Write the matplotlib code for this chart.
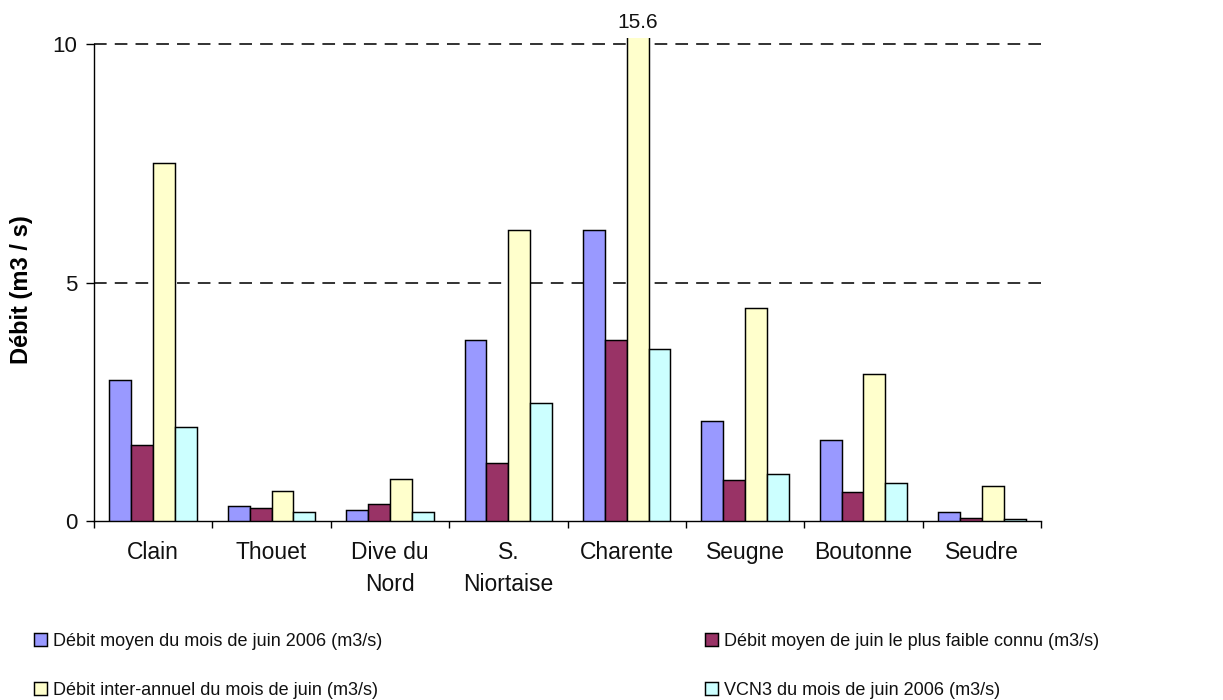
import matplotlib
matplotlib.use("Agg")
import matplotlib.pyplot as plt
import numpy as np
from matplotlib.patches import Rectangle

plt.rcParams['font.family'] = ['Liberation Sans', 'DejaVu Sans']

categories = ["Clain", "Thouet", "Dive du\nNord", "S.\nNiortaise", "Charente",
              "Seugne", "Boutonne", "Seudre"]
series_names = [
    "Débit moyen du mois de juin 2006 (m3/s)",
    "Débit moyen de juin le plus faible connu (m3/s)",
    "Débit inter-annuel du mois de juin (m3/s)",
    "VCN3 du mois de juin 2006 (m3/s)",
]
debit_juin_2006 = [2.95, 0.32, 0.23, 3.80, 6.10, 2.10, 1.69, 0.18]
debit_juin_min = [1.59, 0.28, 0.36, 1.22, 3.80, 0.85, 0.60, 0.06]
debit_interannuel = [7.52, 0.64, 0.88, 6.10, 15.6, 4.46, 3.09, 0.74]
vcn3_juin_2006 = [1.97, 0.18, 0.18, 2.48, 3.61, 0.99, 0.79, 0.05]
colors = ["#9999FF", "#993366", "#FFFFCC", "#CCFFFF"]
y_ticks = [0, 5, 10]
y_max = 10

series = [debit_juin_2006, debit_juin_min, debit_interannuel, vcn3_juin_2006]

fig = plt.figure(figsize=(12.23, 7.0), dpi=100)
ax = fig.add_axes([94 / 1223, 1 - 521 / 700, 947 / 1223, 476.5 / 700])

x = np.arange(len(categories))
w = 0.185
offsets = (np.arange(len(series)) - 1.5) * w

clip_rect = Rectangle((0, 0), 1, 1.013, transform=ax.transAxes)

handles = []
for vals, off, col, name in zip(series, offsets, colors, series_names):
    bars = ax.bar(x + off, vals, width=w, color=col, edgecolor="black",
                  linewidth=1.05, label=name, zorder=3)
    handles.append(bars)
    for b, v in zip(bars, vals):
        if v > y_max:
            b.set_clip_path(clip_rect)
            ax.annotate(f"{v:g}", xy=(b.get_x() + b.get_width() / 2, y_max),
                        xytext=(0, 12), textcoords="offset points",
                        ha="center", va="baseline", fontsize=15,
                        color="#111111", annotation_clip=False)

ax.set_xlim(-0.5, len(categories) - 0.5)
ax.set_ylim(0, y_max)
ax.set_yticks(y_ticks)
ax.set_yticklabels([str(t) for t in y_ticks])

ax.set_xticks(x)
ax.set_xticklabels(categories, fontsize=16.5, linespacing=1.5, color="#111111")
ax.set_xticks(np.arange(len(categories) + 1) - 0.5, minor=True)
ax.tick_params(axis="x", which="major", length=0, pad=14.5)
ax.tick_params(axis="x", which="minor", length=5, width=1.0, direction="out")
ax.tick_params(axis="y", which="major", length=6, width=1.0, direction="out",
               labelsize=16, pad=6, labelcolor="#111111")

for s in ["top", "right"]:
    ax.spines[s].set_visible(False)
for s in ["left", "bottom"]:
    ax.spines[s].set_linewidth(1.0)
    ax.spines[s].set_color("black")

ax.set_axisbelow(True)
ax.yaxis.grid(True, color="#222222", linestyle=(0, (7, 4.5)), linewidth=1.3)
for gl, t in zip(ax.get_ygridlines(), y_ticks):
    gl.set_clip_on(False)
    if t == 0:
        gl.set_visible(False)

ax.set_ylabel("Débit (m3 / s)", fontsize=17, fontweight="bold", va="center")
ax.yaxis.set_label_coords(-0.077, 0.485)

leg_kw = dict(frameon=False, prop={"size": 13},
              handlelength=0.7, handleheight=0.7,
              handletextpad=0.35, labelspacing=1.75, borderpad=0,
              borderaxespad=0, loc="upper left", labelcolor="#111111")
leg1 = fig.legend([handles[0], handles[2]], [series_names[0], series_names[2]],
                  bbox_to_anchor=(34 / 1223, 1 - 633 / 700), **leg_kw)
leg2 = fig.legend([handles[1], handles[3]], [series_names[1], series_names[3]],
                  bbox_to_anchor=(705 / 1223, 1 - 633 / 700), **leg_kw)

fig.savefig("out.png", dpi=100, facecolor="white")
